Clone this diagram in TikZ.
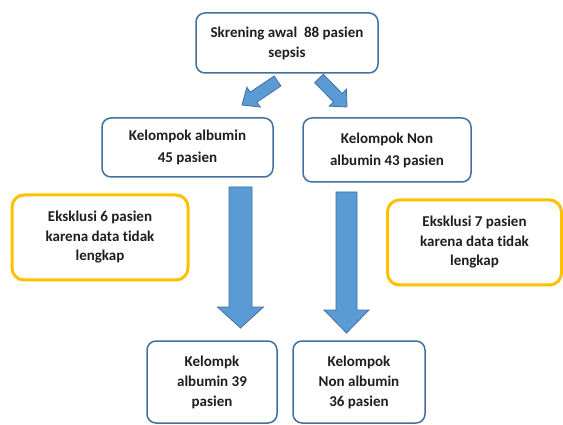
\documentclass[tikz,border=0pt]{standalone}
\usepackage{fontspec}
\setmainfont{Carlito}[Ligatures=NoCommon]
\usetikzlibrary{calc}
\definecolor{boxblue}{HTML}{41719C}
\definecolor{arrowfill}{HTML}{5B9BD5}
\definecolor{goldline}{HTML}{FFC000}
\definecolor{txt}{HTML}{1F1F1F}
\newcommand\myblockarrow[6]{% name, A, B, shaft half, head half, head length
  \coordinate (#1-h) at ($(#3)!#6!(#2)$);
  \filldraw[blockarrow]
    ($(#2)!#4!90:(#3)$) -- ($(#1-h)!#4!-90:(#2)$) -- ($(#1-h)!#5!-90:(#2)$)
    -- (#3) -- ($(#1-h)!#5!90:(#2)$) -- ($(#1-h)!#4!90:(#2)$)
    -- ($(#2)!#4!-90:(#3)$) -- cycle;
}
\begin{document}
\begin{tikzpicture}[x=1pt,y=-1pt,
  bluebox/.style={draw=boxblue,line width=1.5pt,rounded corners=9pt,fill=white,
    inner sep=0pt,align=center,text=txt,font=\fontsize{15}{20}\selectfont\bfseries},
  goldbox/.style={draw=goldline,line width=3pt,rounded corners=12pt,fill=white,
    inner sep=0pt,align=center,text=txt,font=\fontsize{15}{19.5}\selectfont\bfseries},
  blockarrow/.style={fill=arrowfill,draw=boxblue,line width=0.8pt,line join=miter}]
\useasboundingbox (0,0) rectangle (563,425);
\fill[white] (0,0) rectangle (563,425);

\node[bluebox,minimum width=182pt,minimum height=60pt] (top) at (287,43)
  {Skrening awal\ \ 88 pasien\\sepsis};
\node[bluebox,minimum width=171pt,minimum height=59pt,
  font=\fontsize{15}{22}\selectfont\bfseries] (alb) at (187.5,147.5)
  {Kelompok albumin\\45 pasien};
\node[bluebox,minimum width=168pt,minimum height=64pt,
  font=\fontsize{15}{22}\selectfont\bfseries] (non) at (387,150)
  {Kelompok Non\\albumin 43 pasien};
\node[goldbox,minimum width=176pt,minimum height=85pt] (ex6) at (100,237.5)
  {Eksklusi 6 pasien\\karena data tidak\\lengkap};
\node[goldbox,minimum width=174pt,minimum height=85pt] (ex7) at (474.5,242.5)
  {Eksklusi 7 pasien\\karena data tidak\\lengkap};
\node[bluebox,minimum width=130pt,minimum height=82pt] (alb39) at (212,382)
  {Kelompk\\albumin 39\\pasien};
\node[bluebox,minimum width=132pt,minimum height=82pt] (non36) at (359,382)
  {Kelompok\\Non albumin\\36 pasien};

\coordinate (d1s) at (277.5,81);
\coordinate (d1e) at (242,105);
\coordinate (d2s) at (319,78.5);
\coordinate (d2e) at (347,107);
\coordinate (v1s) at (240.5,187);
\coordinate (v1e) at (240.5,328);
\coordinate (v2s) at (346.5,192);
\coordinate (v2e) at (346.5,333);

\myblockarrow{d1}{d1s}{d1e}{6pt}{12pt}{14pt}
\myblockarrow{d2}{d2s}{d2e}{6pt}{12pt}{13pt}
\myblockarrow{v1}{v1s}{v1e}{11.5pt}{23pt}{21pt}
\myblockarrow{v2}{v2s}{v2e}{10.5pt}{22.5pt}{23pt}
\end{tikzpicture}
\end{document}
